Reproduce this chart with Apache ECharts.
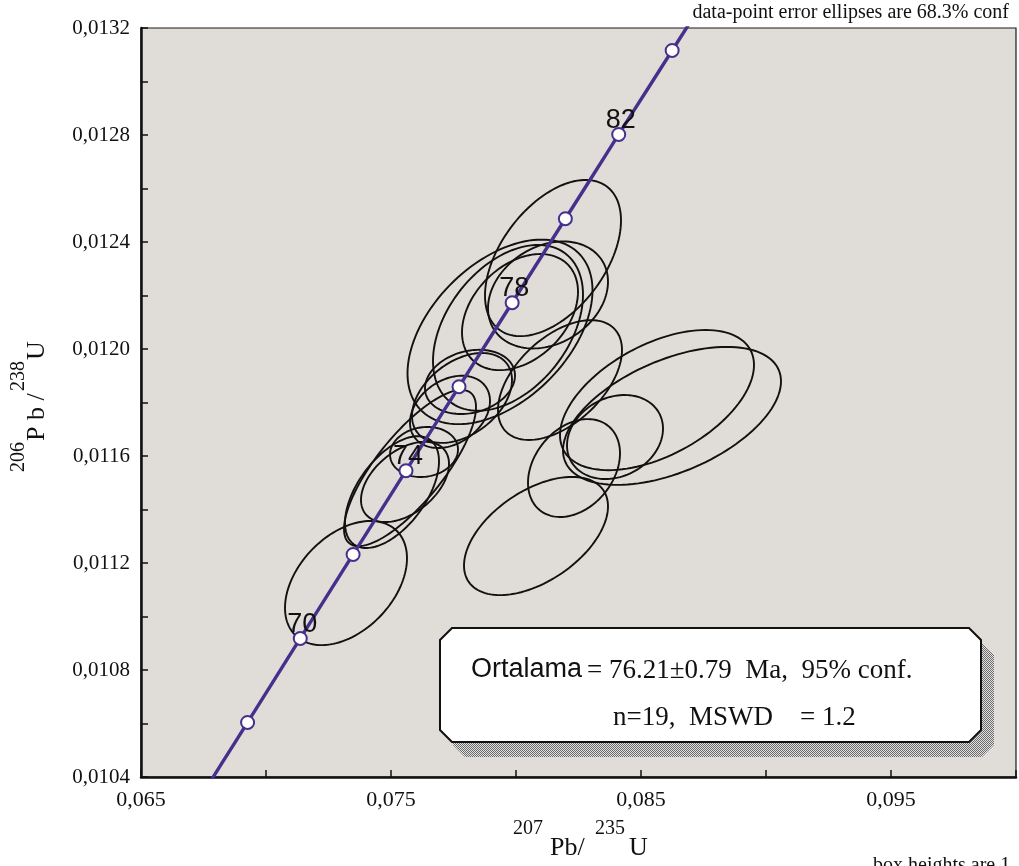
<!DOCTYPE html>
<html>
<head>
<meta charset="utf-8">
<script src="https://cdn.jsdelivr.net/npm/echarts@6/dist/echarts.min.js"></script>
<style>
html,body{margin:0;padding:0;background:#ffffff;}
#chart{width:1019px;height:866px;}
</style>
</head>
<body>
<div id="chart"></div>
<script>
// Concordia curve: age (Ma), 207Pb/235U, 206Pb/238U
const concAge = [66,67,68,69,70,71,72,73,74,75,76,77,78,79,80,81,82,83,84,85,86];
const concX = [0.067159,0.068211,0.069263,0.070317,0.071371,0.072427,0.073484,0.074541,0.075600,0.076660,
               0.077721,0.078783,0.079846,0.080910,0.081975,0.083041,0.084108,0.085176,0.086246,0.087316,0.088387];
const concY = [0.010291,0.010448,0.010604,0.010761,0.010918,0.011075,0.011232,0.011388,0.011545,0.011702,
               0.011859,0.012016,0.012173,0.012330,0.012487,0.012644,0.012802,0.012959,0.013116,0.013273,0.013430];
const markerAges = [68,70,72,74,76,78,80,82,84];
const labelledAges = [70,74,78,82];

// Analyses (n = 19): centre, half-extent in x and y, error correlation
const ellX     = [0.07320,0.07504,0.07632,0.07556,0.07576,0.07736,0.07784,0.07816,0.07936,0.07968,
                  0.08016,0.08128,0.08148,0.08564,0.08624,0.08396,0.08080,0.08232,0.08176];
const ellY     = [0.011125,0.011465,0.011615,0.011503,0.011555,0.011765,0.011817,0.011877,0.012064,0.012079,
                  0.012138,0.012202,0.012340,0.011809,0.011750,0.011671,0.011301,0.011555,0.011884];
const ellHalfX = [0.00244,0.00188,0.00136,0.00176,0.00264,0.00160,0.00200,0.00180,0.00370,0.00300,
                  0.00232,0.00240,0.00272,0.00388,0.00436,0.00192,0.00288,0.00184,0.00248];
const ellHalfY = [0.000232,0.000209,0.0000935,0.000150,0.000292,0.000135,0.000168,0.000120,0.000345,0.000310,
                  0.000217,0.000200,0.000292,0.000262,0.000258,0.000157,0.000221,0.000183,0.000224];
const ellRho   = [0.40,0.55,0.10,0.45,0.78,0.30,0.40,0.20,0.45,0.40,
                  0.35,0.25,0.48,0.50,0.50,0.20,0.50,0.30,0.50];

// Axis tick labels
const xTickValues = [0.065,0.075,0.085,0.095];
const xTickLabels = ['0,065','0,075','0,085','0,095'];
const yTickValues = [0.0104,0.0108,0.0112,0.0116,0.0120,0.0124,0.0128,0.0132];
const yTickLabels = ['0,0104','0,0108','0,0112','0,0116','0,0120','0,0124','0,0128','0,0132'];

// Summary text
const sampleName = 'Ortalama';
const ageText = '= 76.21\u00b10.79  Ma,  95% conf.';
const statText = 'n=19,  MSWD    = 1.2';
const noteTop = 'data-point error ellipses are 68.3% conf';
const noteBottom = 'box heights are 1';

const SERIF = '"Liberation Serif", "Times New Roman", serif';
const SANS = '"Liberation Sans", Arial, sans-serif';
const PURPLE = '#46308c';

function lookup(values, labels, v) {
  for (let i = 0; i < values.length; i++) {
    if (Math.abs(values[i] - v) < 1e-7) return labels[i];
  }
  return '';
}

const concData = concAge.map((a, i) => [concX[i], concY[i]]);
const markerData = markerAges.map(a => {
  const i = concAge.indexOf(a);
  return {
    value: [concX[i], concY[i]],
    age: a,
    label: { show: labelledAges.indexOf(a) >= 0 }
  };
});
const ellData = ellX.map((x, i) => [x, ellY[i], ellHalfX[i], ellHalfY[i], ellRho[i]]);

// stippled fill for the box shadow
function stipple() {
  const c = document.createElement('canvas');
  c.width = 2; c.height = 2;
  const g = c.getContext('2d');
  g.fillStyle = '#e2e2e2'; g.fillRect(0, 0, 2, 2);
  g.fillStyle = '#6a6a6a'; g.fillRect(0, 0, 1, 1); g.fillRect(1, 1, 1, 1);
  return c;
}

function chamfer(l, t, r, b, c) {
  return [[l + c, t], [r - c, t], [r, t + c], [r, b - c], [r - c, b], [l + c, b], [l, b - c], [l, t + c]];
}

function txt(x, y, text, size, family, align, extra) {
  return Object.assign({
    type: 'text', x: x, y: y, z: 20,
    style: {
      text: text, fontSize: size, fontFamily: family, fill: '#111111',
      align: align || 'left', textAlign: align || 'left',
      verticalAlign: 'middle', textVerticalAlign: 'middle'
    }
  }, extra || {});
}

const chart = echarts.init(document.getElementById('chart'), null, { renderer: 'canvas' });

chart.setOption({
  animation: false,
  backgroundColor: '#ffffff',
  grid: {
    left: 141, top: 28, right: 3, bottom: 89,
    containLabel: false,
    show: true,
    backgroundColor: '#e0dcd8',
    borderColor: '#1a1a1a',
    borderWidth: 1.2
  },
  xAxis: {
    type: 'value',
    min: 0.065, max: 0.100, interval: 0.005,
    axisLine: { show: true, onZero: false, lineStyle: { color: '#111', width: 2.5 } },
    axisTick: { show: true, inside: true, length: 7, lineStyle: { color: '#111', width: 1.5 } },
    splitLine: { show: false },
    axisLabel: {
      margin: 12, color: '#111', fontSize: 22, fontFamily: SERIF,
      showMinLabel: true, showMaxLabel: true,
      formatter: v => lookup(xTickValues, xTickLabels, v)
    }
  },
  yAxis: {
    type: 'value',
    min: 0.0104, max: 0.0132, interval: 0.0002,
    axisLine: { show: true, onZero: false, lineStyle: { color: '#111', width: 2.5 } },
    axisTick: { show: true, inside: true, length: 7, lineStyle: { color: '#111', width: 1.5 } },
    splitLine: { show: false },
    axisLabel: {
      margin: 11, color: '#111', fontSize: 21, fontFamily: SERIF,
      showMinLabel: true, showMaxLabel: true,
      formatter: v => lookup(yTickValues, yTickLabels, v)
    }
  },
  series: [
    {
      name: 'ellipses',
      type: 'custom',
      coordinateSystem: 'cartesian2d',
      dimensions: ['x', 'y', 'hx', 'hy', 'rho'],
      encode: { x: 0, y: 1 },
      data: ellData,
      z: 2,
      silent: true,
      renderItem: function (params, api) {
        const cx = api.value(0), cy = api.value(1);
        const hx = api.value(2), hy = api.value(3), r = api.value(4);
        const s = Math.sqrt(1 - r * r);
        const pts = [];
        const n = 120;
        for (let k = 0; k < n; k++) {
          const t = k / n * Math.PI * 2;
          pts.push(api.coord([cx + hx * Math.cos(t), cy + hy * (r * Math.cos(t) + s * Math.sin(t))]));
        }
        return {
          type: 'polygon',
          shape: { points: pts },
          style: { fill: 'none', stroke: '#111111', lineWidth: 1.9 }
        };
      }
    },
    {
      name: 'concordia',
      type: 'line',
      data: concData,
      smooth: true,
      showSymbol: false,
      clip: true,
      z: 3,
      silent: true,
      lineStyle: { color: PURPLE, width: 3.4, opacity: 1 }
    },
    {
      name: 'ages',
      type: 'scatter',
      data: markerData,
      symbol: 'circle',
      symbolSize: 13,
      z: 4,
      silent: true,
      itemStyle: { color: '#ffffff', borderColor: PURPLE, borderWidth: 2, opacity: 1 },
      label: {
        position: 'inside',
        offset: [2, -14],
        color: '#111111',
        opacity: 1,
        fontSize: 27,
        fontFamily: SANS,
        formatter: p => String(p.data.age)
      }
    }
  ],
  graphic: [
    // summary box with stippled shadow
    { type: 'polygon', z: 10, shape: { points: chamfer(453, 643, 994, 757, 12) },
      style: { fill: { image: stipple(), repeat: 'repeat' }, stroke: null } },
    { type: 'polygon', z: 11, shape: { points: chamfer(440, 628, 981, 742, 12) },
      style: { fill: '#ffffff', stroke: '#111111', lineWidth: 2 } },
    txt(471, 670, sampleName, 27, SANS, 'left'),
    txt(587, 671, ageText, 27, SERIF, 'left'),
    txt(613, 718, statText, 27, SERIF, 'left'),

    // notes
    txt(1009, 13, noteTop, 20, SERIF, 'right'),
    txt(873, 866, noteBottom, 20, SERIF, 'left'),

    // x-axis title: 207Pb/ 235U
    txt(513, 829, '207', 20, SERIF, 'left'),
    txt(550, 848, 'Pb/', 26, SERIF, 'left'),
    txt(595, 829, '235', 20, SERIF, 'left'),
    txt(629, 848, 'U', 26, SERIF, 'left'),

    // y-axis title: 206Pb/238U (rotated)
    {
      type: 'group', x: 28, y: 472, rotation: Math.PI / 2,
      children: [
        txt(0, -9, '206', 20, SERIF, 'left'),
        txt(31, 9, 'P b /', 26, SERIF, 'left'),
        txt(81, -9, '238', 20, SERIF, 'left'),
        txt(112, 9, 'U', 26, SERIF, 'left')
      ]
    }
  ]
});
</script>
</body>
</html>
